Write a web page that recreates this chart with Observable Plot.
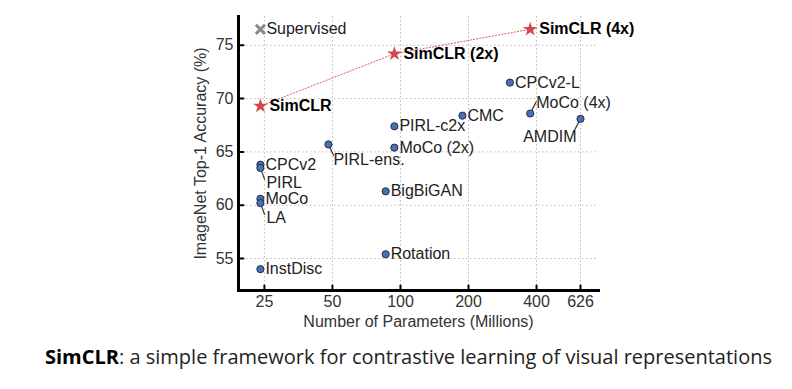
<!DOCTYPE html>
<html>
<head>
<meta charset="utf-8">
<script src="https://cdn.jsdelivr.net/npm/d3@7"></script>
<script src="https://cdn.jsdelivr.net/npm/@observablehq/plot@0.6"></script>
<style>
  html, body { margin: 0; padding: 0; background: #fff; }
  #chart svg { display: block; }
  #caption {
    font-family: "Open Sans", sans-serif;
    font-size: 20px;
    line-height: 24px;
    color: #222;
    margin: 5px 0 0 45px;
    white-space: nowrap;
  }
  #caption b { font-weight: 700; color: #000; }
</style>
</head>
<body>
<div id="chart"></div>
<div id="caption"><b>SimCLR</b>: a simple framework for contrastive learning of visual representations</div>
<script>
// ---- data ----
const methods = ["Supervised","SimCLR","SimCLR (2x)","SimCLR (4x)","CPCv2-L","MoCo (4x)","AMDIM","CMC","PIRL-c2x","MoCo (2x)","PIRL-ens.","CPCv2","PIRL","MoCo","LA","InstDisc","BigBiGAN","Rotation"];
const params = [24, 24, 94, 375, 305, 375, 626, 188, 94, 94, 48, 24, 24, 24, 24, 24, 86, 86];
const accuracy = [76.5, 69.3, 74.2, 76.5, 71.5, 68.6, 68.1, 68.4, 67.4, 65.4, 65.7, 63.8, 63.5, 60.6, 60.2, 54.0, 61.3, 55.4];
const kinds = ["supervised","simclr","simclr","simclr","other","other","other","other","other","other","other","other","other","other","other","other","other","other"];
const xTicks = [25, 50, 100, 200, 400, 626];
const yTicks = [55, 60, 65, 70, 75];
const xDomain = [19.2, 752];
const yDomain = [52.0, 77.7];
const xTitle = "Number of Parameters (Millions)";
const yTitle = "ImageNet Top-1 Accuracy (%)";

// ---- label placement (style) ----
const placement = {
  "Supervised": {dx: 6},
  "SimCLR": {dx: 9}, "SimCLR (2x)": {dx: 9}, "SimCLR (4x)": {dx: 9},
  "PIRL": {dx: 6, dy: 15, rot: 160, len: 11},
  "LA": {dx: 6, dy: 15, rot: 160, len: 11},
  "PIRL-ens.": {dx: 5, dy: 15, rot: 155, len: 11},
  "MoCo (4x)": {dx: 6, dy: -11, rot: 27, len: 12},
  "AMDIM": {dx: -4, dy: 18, rot: 208, len: 11, anchor: "end"}
};

const rows = methods.map((m, i) => ({name: m, params: params[i], acc: accuracy[i], kind: kinds[i]}));
const simclr = rows.filter(d => d.kind === "simclr");
const others = rows.filter(d => d.kind === "other");
const sup = rows.filter(d => d.kind === "supervised");
const leaders = rows.filter(d => placement[d.name] && placement[d.name].len);
const P = d => placement[d.name] || {};

const lineShape = {draw(ctx, l) { ctx.moveTo(0, 0); ctx.lineTo(0, -l); }};
const font = "Liberation Sans, Arial, Helvetica, sans-serif";

function labels(data, opts) {
  const groups = d3.groups(data, d => `${P(d).dx ?? 5}|${P(d).dy ?? 0}|${P(d).anchor ?? "start"}`);
  return groups.map(([key, g]) => {
    const [dx, dy, anchor] = key.split("|");
    return Plot.text(g, {x: "params", y: "acc", text: "name", dx: +dx, dy: +dy, textAnchor: anchor, lineAnchor: "middle", fontSize: 16, ...opts});
  });
}

const chart = Plot.plot({
  width: 792,
  height: 340,
  marginLeft: 238,
  marginRight: 194,
  marginTop: 16,
  marginBottom: 50,
  style: {fontFamily: font, background: "#fff"},
  x: {type: "log", domain: xDomain, axis: null},
  y: {domain: yDomain, axis: null},
  marks: [
    Plot.gridX(xTicks, {stroke: "#bbb", strokeOpacity: 1, strokeDasharray: "1.5,2.5", strokeWidth: 1}),
    Plot.gridY(yTicks, {stroke: "#bbb", strokeOpacity: 1, strokeDasharray: "1.5,2.5", strokeWidth: 1}),
    // tick labels
    Plot.text(xTicks, {x: d => d, frameAnchor: "bottom", text: d => String(d), dy: 11, lineAnchor: "middle", textAnchor: "middle", fontSize: 16, fill: "#333"}),
    Plot.text(yTicks, {y: d => d, frameAnchor: "left", text: d => String(d), dx: -5, lineAnchor: "middle", textAnchor: "end", fontSize: 16, fill: "#333"}),
    // inward ticks
    Plot.vector(xTicks, {x: d => d, frameAnchor: "bottom", length: 5, rotate: 0, anchor: "start", shape: lineShape, stroke: "#000", strokeWidth: 2}),
    Plot.vector(yTicks, {y: d => d, frameAnchor: "left", length: 5, rotate: 90, anchor: "start", shape: lineShape, stroke: "#000", strokeWidth: 2}),
    // spines
    Plot.frame({anchor: "left", stroke: "#000", strokeWidth: 3}),
    Plot.frame({anchor: "bottom", stroke: "#000", strokeWidth: 3}),
    // axis titles
    Plot.text([xTitle], {frameAnchor: "bottom", dy: 31, lineAnchor: "middle", textAnchor: "middle", fontSize: 16, fill: "#333"}),
    Plot.text([yTitle], {frameAnchor: "left", dx: -38, rotate: -90, lineAnchor: "middle", textAnchor: "middle", fontSize: 16, fill: "#333"}),
    // data
    Plot.line(simclr, {x: "params", y: "acc", stroke: "#e0585c", strokeWidth: 1, strokeDasharray: "1.2,2"}),
    Plot.vector(leaders, {x: "params", y: "acc", length: d => P(d).len, rotate: d => P(d).rot, anchor: "start", shape: lineShape, stroke: "#333", strokeWidth: 1.2}),
    Plot.dot(others, {x: "params", y: "acc", r: 3.6, fill: "#4a70ae", stroke: "#1d2f52", strokeWidth: 1}),
    Plot.dot(simclr, {x: "params", y: "acc", symbol: "star", r: 4.6, fill: "#d5474f", stroke: "none"}),
    Plot.dot(sup, {x: "params", y: "acc", symbol: "times", r: 4.2, stroke: "#888", strokeWidth: 3}),
    ...labels(others, {fill: "#222"}),
    ...labels(sup, {fill: "#222"}),
    ...labels(simclr, {fill: "#000", fontWeight: "bold"})
  ]
});
document.getElementById("chart").append(chart);
</script>
</body>
</html>
